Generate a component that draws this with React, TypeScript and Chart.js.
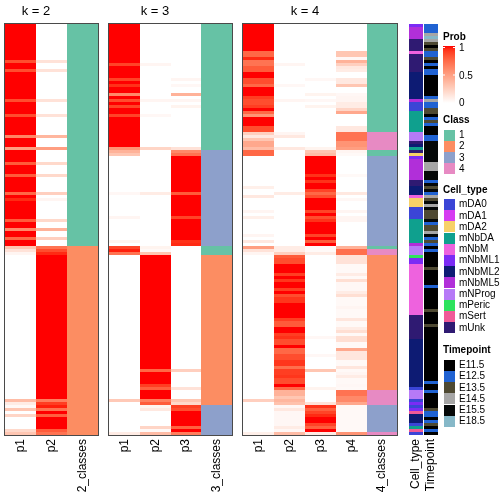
import React, { useEffect, useRef } from "react";
import { Chart, registerables } from "chart.js";

Chart.register(...registerables);

// ---------- DATA (run-length: [value, number of consecutive rows]) ----------
type Run<T> = [T, number];

const k2_p1: Run<number>[] = [[1,12],[.85,1],[1,2],[.85,1],[1,9],[.85,1],[1,4],[.85,1],[1,6],[.62,1],[1,3],[.5,1],[1,4],[.8,1],[1,3],[.8,1],[1,5],[.75,1],[1,1],[.95,1],[1,6],[.8,1],[1,2],[.6,1],[1,2],[.75,1],[1,2],[.3,1],[.15,1],[.05,1],[0,48],[.35,1],[.1,1],[.03,1],[.3,1],[0,1],[.22,1],[0,4],[.2,1],[.3,1]];
const k2_p2: Run<number>[] = [[0,12],[.15,1],[0,2],[.15,1],[0,9],[.15,1],[0,4],[.15,1],[0,6],[.38,1],[0,3],[.5,1],[0,4],[.2,1],[0,3],[.2,1],[0,5],[.25,1],[0,1],[.05,1],[0,6],[.2,1],[0,2],[.4,1],[0,2],[.25,1],[0,2],[.7,1],[.85,1],[.95,1],[1,48],[.65,1],[.9,1],[.97,1],[.7,1],[1,1],[.78,1],[1,4],[.8,1],[.7,1]];
const k2_class: Run<number>[] = [[1,74],[2,63]];

const k3_p1: Run<number>[] = [[1,13],[.88,1],[1,4],[.88,1],[1,1],[.93,1],[1,2],[.6,1],[1,1],[.85,1],[1,1],[.88,1],[1,2],[.88,1],[1,10],[.55,1],[.4,1],[.3,1],[0,12],[.04,1],[0,7],[.05,1],[0,7],[.06,1],[0,1],[.88,1],[.97,1],[.7,1],[0,48],[.28,1],[0,10],[.1,1]];
const k3_p2: Run<number>[] = [[0,13],[.05,1],[0,11],[.05,1],[0,4],[.04,1],[0,10],[.22,1],[0,14],[.1,1],[0,17],[.06,1],[.03,1],[.3,1],[1,38],[.75,1],[1,4],[.9,1],[.78,1],[1,3],[.65,1],[.8,1],[.06,1],[.12,1],[0,5],[.22,1],[.03,1],[.35,1]];
const k3_p3: Run<number>[] = [[0,18],[.05,1],[0,1],[.04,1],[0,2],[.4,1],[0,1],[.05,1],[0,1],[.06,1],[0,13],[.15,1],[.6,1],[.7,1],[1,12],[.8,1],[1,7],[.88,1],[1,7],[.93,1],[.95,1],[0,3],[0,38],[.25,1],[0,5],[.15,1],[0,3],[.3,1],[.2,1],[.9,1],[.85,1],[1,5],[.78,1],[1,1],[.65,1]];
const k3_class: Run<number>[] = [[1,42],[3,32],[1,3],[2,50],[3,10]];

const k4_p1: Run<number>[] = [[1,9],[.75,2],[.95,1],[.7,2],[.8,2],[1,2],[.85,2],[.75,1],[1,3],[.9,1],[.85,2],[.9,1],[1,1],[.75,1],[.55,1],[1,3],[.85,2],[.25,1],[.12,1],[.3,1],[.45,2],[.35,1],[.75,2],[0,10],[.08,1],[0,2],[.12,1],[0,4],[.05,1],[0,1],[.08,1],[0,5],[.05,1],[0,1],[.12,1],[0,1],[.5,1],[.15,1],[.05,1],[0,48],[.25,1],[0,10],[.08,1]];
const k4_p2: Run<number>[] = [[0,13],[.05,1],[0,6],[.04,1],[0,4],[.05,1],[0,10],[.05,1],[.12,1],[0,3],[.12,1],[0,14],[.1,1],[0,17],[.1,1],[.1,1],[.25,1],[.8,1],[.85,2],[1,3],[.9,1],[1,1],[.92,1],[1,2],[.9,1],[1,1],[.85,1],[.92,2],[1,5],[.9,1],[.8,2],[1,2],[.9,1],[.93,1],[.85,2],[1,1],[.75,2],[.85,2],[.92,2],[.72,1],[.9,2],[.92,1],[.85,2],[1,1],[.75,1],[.4,2],[.3,1],[.38,1],[.32,1],[.04,1],[.12,1],[.04,5],[.1,1],[.04,1],[.35,1]];
const k4_p3: Run<number>[] = [[0,18],[.04,1],[0,4],[.06,1],[0,1],[.04,1],[0,1],[.06,1],[0,13],[.06,1],[.3,1],[.35,1],[1,6],[.93,1],[1,1],[.93,1],[1,2],[.88,1],[.75,1],[.85,1],[1,4],[.88,1],[1,1],[.85,1],[.93,1],[1,4],[.88,1],[1,1],[.8,1],[1,1],[.03,1],[.03,1],[.1,1],[0,27],[.04,1],[0,5],[.04,1],[0,4],[.3,1],[0,5],[.06,1],[0,4],[.15,1],[.93,1],[.78,1],[.88,1],[.95,1],[1,2],[.88,1],[.78,1],[1,1],[.1,1]];
const k4_p4: Run<number>[] = [[0,9],[.3,2],[.04,1],[.4,1],[.25,1],[.12,1],[.1,1],[0,2],[.12,2],[.3,1],[0,2],[.04,1],[.05,2],[.1,2],[.22,1],[.45,1],[0,4],[.12,2],[.7,3],[.55,2],[.5,1],[.05,1],[.03,1],[0,6],[.03,1],[0,5],[.12,1],[0,1],[.04,1],[0,3],[.05,1],[0,1],[.05,2],[0,8],[.4,1],[.72,2],[.15,3],[.03,3],[.1,1],[.03,1],[.17,1],[.04,3],[.1,1],[.17,1],[.03,3],[.05,1],[.03,3],[.13,1],[.03,2],[.1,1],[.17,1],[.03,1],[.17,2],[.03,2],[.45,1],[.13,3],[.03,2],[.13,1],[.03,1],[.05,1],[.1,1],[.03,2],[.04,1],[.03,1],[.7,2],[.6,2],[.45,1],[.03,9],[.55,1]];
const k4_class: Run<number>[] = [[1,36],[4,6],[1,2],[3,30],[1,1],[4,2],[2,45],[4,5],[3,9],[4,1]];

const cellType: Run<string>[] = [["mNbML1",1],["mNbML5",4],["mUnk",4],["mNbM",1],["mUnk",6],["mNbML2",9],["mNbML5",1],["mDA0",3],["mNbDA",7],["mNProg",3],["mUnk",1],["mNbML2",1],["mNbDA",1],["mUnk",1],["mDA2",1],["mNbML1",1],["mNbML5",7],["mUnk",2],["mNbML2",3],["mNbM",1],["mDA2",3],["mDA0",4],["mNbDA",8],["mNbML5",1],["mNProg",3],["mPeric",1],["mNbML1",2],["mNbM",17],["mUnk",8],["mNbML2",16],["mDA0",1],["mNProg",3],["mDA0",1],["mNbML1",1],["mDA0",1],["mNbML1",1],["mSert",1],["mNbML2",3],["mDA0",1],["mNbDA",1],["mSert",1],["mDA0",1]];
const timepoint: Run<string>[] = [["E12.5",3],["E14.5",1],["E18.5",1],["E14.5",1],["E13.5",1],["E11.5",1],["E13.5",1],["E12.5",2],["E13.5",1],["E11.5",1],["E12.5",1],["E11.5",1],["E12.5",2],["E11.5",7],["E12.5",1],["E14.5",1],["E12.5",2],["E13.5",2],["E11.5",1],["E12.5",1],["E13.5",1],["E12.5",1],["E11.5",3],["E12.5",2],["E15.5",7],["E14.5",3],["E15.5",3],["E12.5",1],["E15.5",1],["E13.5",1],["E15.5",1],["E12.5",1],["E14.5",1],["E13.5",1],["E15.5",1],["E14.5",1],["E15.5",1],["E13.5",3],["E15.5",1],["E12.5",1],["E13.5",2],["E14.5",1],["E15.5",1],["E12.5",1],["E13.5",1],["E12.5",1],["E11.5",1],["E12.5",1],["E11.5",5],["E13.5",1],["E11.5",5],["E12.5",1],["E11.5",7],["E13.5",1],["E11.5",4],["E13.5",1],["E11.5",18],["E12.5",1],["E11.5",2],["E12.5",1],["E11.5",5],["E13.5",1],["E12.5",2],["E11.5",1],["E12.5",1],["E13.5",1],["E11.5",1],["E12.5",1],["E11.5",1]];

const probTicks = [1, 0.5, 0];
const classLevels = [1, 2, 3, 4];
const cellTypeLevels = ["mDA0","mDA1","mDA2","mNbDA","mNbM","mNbML1","mNbML2","mNbML5","mNProg","mPeric","mSert","mUnk"];
const timepointLevels = ["E11.5","E12.5","E13.5","E14.5","E15.5","E18.5"];

// ---------- STYLES ----------
const classColors: Record<number, string> = { 1: "#66C2A5", 2: "#FC8D62", 3: "#8DA0CB", 4: "#E78AC3" };
const cellTypeColors: Record<string, string> = {
  mDA0: "#3B45D6", mDA1: "#D63CF2", mDA2: "#F7D167", mNbDA: "#0FA08E", mNbM: "#EE62DE",
  mNbML1: "#7B2BF5", mNbML2: "#0D1B73", mNbML5: "#B12FD9", mNProg: "#B67AF7",
  mPeric: "#2EE35E", mSert: "#F05A98", mUnk: "#2F1A72",
};
const timepointColors: Record<string, string> = {
  "E11.5": "#000000", "E12.5": "#2062D2", "E13.5": "#4E4932", "E14.5": "#A6A6A6", "E15.5": "#050808", "E18.5": "#86B8C8",
};
const FONT = '"Liberation Sans", Arial, Helvetica, sans-serif';

const expand = <T,>(runs: Run<T>[]): T[] => runs.flatMap(([v, n]) => Array(n).fill(v));

// white -> red in LAB space (like colorRamp2)
const labToRgb = (L: number, a: number, b: number) => {
  const fy = (L + 16) / 116, fx = fy + a / 500, fz = fy - b / 200;
  const inv = (t: number) => (t ** 3 > 0.008856 ? t ** 3 : (t - 16 / 116) / 7.787);
  const X = 0.95047 * inv(fx), Y = inv(fy), Z = 1.08883 * inv(fz);
  const lin = [
    3.2406 * X - 1.5372 * Y - 0.4986 * Z,
    -0.9689 * X + 1.8758 * Y + 0.0415 * Z,
    0.0557 * X - 0.204 * Y + 1.057 * Z,
  ];
  return lin.map((c) => {
    const cc = Math.min(1, Math.max(0, c));
    const s = cc <= 0.0031308 ? 12.92 * cc : 1.055 * Math.pow(cc, 1 / 2.4) - 0.055;
    return Math.round(s * 255);
  });
};
const probColor = (v: number) => {
  const [r, g, b] = labToRgb(100 + (53.24 - 100) * v, 80.09 * v, 67.2 * v);
  return `rgb(${r},${g},${b})`;
};

// ---------- LAYOUT ----------
const TOP = 24;
const BOTTOM_PAD = 69;
const panels = [
  { title: "k = 2", edges: [5, 36, 67, 98], series: [k2_p1, k2_p2], cls: k2_class, labels: ["p1", "p2", "2_classes"] },
  { title: "k = 3", edges: [109, 140, 171, 201, 232], series: [k3_p1, k3_p2, k3_p3], cls: k3_class, labels: ["p1", "p2", "p3", "3_classes"] },
  { title: "k = 4", edges: [243, 274, 305, 336, 367, 397], series: [k4_p1, k4_p2, k4_p3, k4_p4], cls: k4_class, labels: ["p1", "p2", "p3", "p4", "4_classes"] },
];
const annoCols = [
  { x0: 409, x1: 423, label: "Cell_type", runs: cellType, colors: cellTypeColors },
  { x0: 424, x1: 438, label: "Timepoint", runs: timepoint, colors: timepointColors },
];

export default function App() {
  const ref = useRef<HTMLCanvasElement>(null);

  useEffect(() => {
    document.body.style.margin = "0";
    const canvas = ref.current;
    if (!canvas) return;

    const nRows = expand(k2_class).length;
    const rowLabels = Array.from({ length: nRows }, (_, i) => String(i + 1));

    const datasets: any[] = [];
    const colLabels: { x: number; text: string }[] = [];
    panels.forEach((p) => {
      const all = [...p.series.map((s) => expand(s).map(probColor)), expand(p.cls).map((c) => classColors[c])];
      all.forEach((colors, j) => {
        const x0 = p.edges[j], x1 = p.edges[j + 1];
        datasets.push({ data: colors.map(() => [x0, x1]), backgroundColor: colors });
        colLabels.push({ x: (x0 + x1) / 2, text: p.labels[j] });
      });
    });
    annoCols.forEach((a) => {
      const colors = expand(a.runs).map((v) => (a.colors as any)[v]);
      datasets.push({ data: colors.map(() => [a.x0, a.x1]), backgroundColor: colors });
      colLabels.push({ x: (a.x0 + a.x1) / 2, text: a.label });
    });
    datasets.forEach((d) => {
      d.grouped = false;
      d.barPercentage = 1;
      d.categoryPercentage = 1;
      d.borderWidth = 0;
      d.inflateAmount = 0;
    });

    const decor = {
      id: "decor",
      afterDraw(chart: any) {
        const ctx = chart.ctx as CanvasRenderingContext2D;
        const xs = chart.scales.x;
        const top = chart.chartArea.top, bottom = chart.chartArea.bottom;
        ctx.save();
        // panel borders and titles
        panels.forEach((p) => {
          const a = xs.getPixelForValue(p.edges[0]);
          const b = xs.getPixelForValue(p.edges[p.edges.length - 1]);
          ctx.strokeStyle = "#4a4a4a";
          ctx.lineWidth = 1;
          ctx.strokeRect(a - 0.5, top - 0.5, b - a + 1, bottom - top + 1);
          const bodyEnd = xs.getPixelForValue(p.edges[p.edges.length - 2]);
          ctx.fillStyle = "#000";
          ctx.font = `13px ${FONT}`;
          ctx.textAlign = "center";
          ctx.textBaseline = "middle";
          ctx.fillText(p.title, (a + bodyEnd) / 2, 11);
        });
        // column labels
        ctx.font = `12px ${FONT}`;
        ctx.fillStyle = "#000";
        colLabels.forEach((l) => {
          ctx.save();
          ctx.translate(xs.getPixelForValue(l.x), bottom + 4);
          ctx.rotate(-Math.PI / 2);
          ctx.textAlign = "right";
          ctx.textBaseline = "middle";
          ctx.fillText(l.text, 0, 0);
          ctx.restore();
        });

        // legends
        const LX = 443, BW = 12, TX = 459;
        const title = (t: string, y: number) => {
          ctx.font = `bold 10px ${FONT}`;
          ctx.fillStyle = "#000";
          ctx.textAlign = "left";
          ctx.textBaseline = "middle";
          ctx.fillText(t, LX, y);
        };
        const label = (t: string, y: number) => {
          ctx.font = `10px ${FONT}`;
          ctx.fillStyle = "#000";
          ctx.textAlign = "left";
          ctx.textBaseline = "middle";
          ctx.fillText(t, TX, y);
        };
        // Prob colour bar
        title("Prob", 37);
        const gy0 = 46, gy1 = 103;
        const grad = ctx.createLinearGradient(0, gy1, 0, gy0);
        for (let i = 0; i <= 20; i++) grad.addColorStop(i / 20, probColor(i / 20));
        ctx.fillStyle = grad;
        ctx.fillRect(LX, gy0, BW, gy1 - gy0);
        probTicks.forEach((t) => {
          const y = gy1 - t * (gy1 - gy0 - 2) - 0.5;
          if (t > 0) {
            ctx.strokeStyle = "#fff";
            ctx.beginPath();
            ctx.moveTo(LX, y); ctx.lineTo(LX + 2, y);
            ctx.moveTo(LX + BW - 2, y); ctx.lineTo(LX + BW, y);
            ctx.stroke();
          }
          label(String(t), y + 1);
        });
        const discrete = (name: string, ty: number, y0: number, step: number, items: { t: string; c: string }[]) => {
          title(name, ty);
          items.forEach((it, i) => {
            const y = y0 + i * step;
            ctx.fillStyle = it.c;
            ctx.fillRect(LX + 1, Math.round(y), 11, Math.round(step));
            label(it.t, y + step / 2);
          });
        };
        discrete("Class", 120, 129.5, 11.3, classLevels.map((c) => ({ t: String(c), c: classColors[c] })));
        discrete("Cell_type", 190, 199, 11.2, cellTypeLevels.map((c) => ({ t: c, c: cellTypeColors[c] })));
        discrete("Timepoint", 350, 359.5, 11.3, timepointLevels.map((c) => ({ t: c, c: timepointColors[c] })));
        ctx.restore();
      },
    };

    const chart = new Chart(canvas, {
      type: "bar",
      data: { labels: rowLabels, datasets },
      options: {
        indexAxis: "y",
        animation: false,
        responsive: false,
        devicePixelRatio: 1,
        events: [],
        layout: { padding: { top: TOP, bottom: BOTTOM_PAD, left: 0, right: 0 } },
        plugins: { legend: { display: false }, tooltip: { enabled: false }, title: { display: false } },
        scales: {
          x: { type: "linear", min: 0, max: 504, display: false },
          y: { type: "category", display: false, offset: true },
        },
      },
      plugins: [decor],
    } as any);
    return () => chart.destroy();
  }, []);

  return (
    <div style={{ position: "absolute", left: 0, top: 0, width: 504, height: 504, background: "#fff" }}>
      <canvas ref={ref} width={504} height={504} />
    </div>
  );
}
